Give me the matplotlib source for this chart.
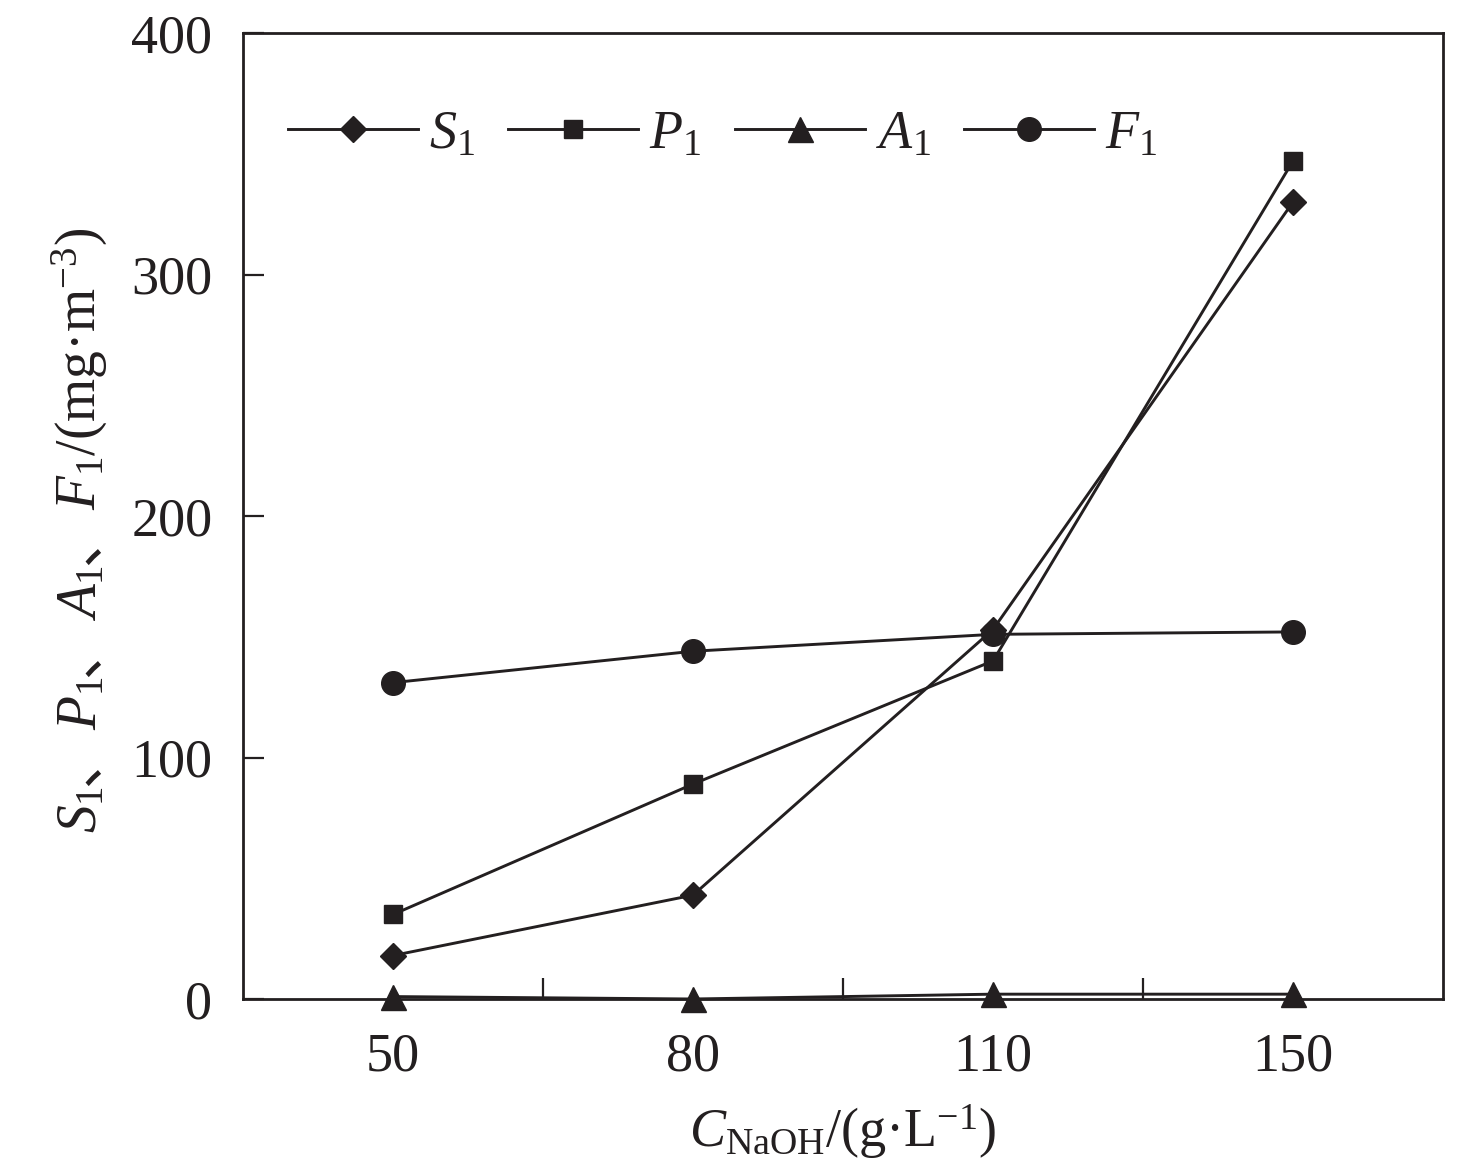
import matplotlib
matplotlib.use('Agg')
import matplotlib.pyplot as plt
from matplotlib.transforms import IdentityTransform
import numpy as np

categories = ['50', '80', '110', '150']
S1 = [18, 43, 153, 330]
P1 = [35, 89, 140, 347]
A1 = [1, 0, 2, 2]
F1 = [131, 144, 151, 152]
yticks = [0, 100, 200, 300, 400]
labels = [r'$S_1$', r'$P_1$', r'$A_1$', r'$F_1$']
xlabel = r'$C_{\mathrm{NaOH}}/(\mathrm{g·L^{-1}})$'
ylabel_pieces = [r'$S_1$', '、', r'$P_1$', '、', r'$A_1$', '、', r'$F_1/(\mathrm{mg·m^{-3}})$']

plt.rcParams['font.family'] = ['Liberation Serif', 'Noto Sans CJK SC']
plt.rcParams['mathtext.fontset'] = 'custom'
plt.rcParams['mathtext.rm'] = 'Liberation Serif'
plt.rcParams['mathtext.it'] = 'Liberation Serif:italic'
plt.rcParams['mathtext.bf'] = 'Liberation Serif:bold'

col = '#231f20'
FS = 39
W, H = 1476, 1168
fig = plt.figure(figsize=(W / 100, H / 100), dpi=100)
ax = fig.add_axes([243 / W, 1 - 999 / H, 1200 / W, 966 / H])

x = np.arange(len(categories)) + 0.5
markers = [('D', 13), ('s', 13), ('^', 18), ('o', 17)]
for vals, (m, ms), lab in zip([S1, P1, A1, F1], markers, labels):
    ax.plot(x, vals, color=col, lw=2.1, marker=m, markersize=ms, label=lab,
            clip_on=False, zorder=3)

ax.set_xlim(0, 4)
ax.set_ylim(0, 400)
ax.set_yticks(yticks)
ax.set_xticks([1, 2, 3])
ax.set_xticklabels([])
ax.set_xticks(x, minor=True)
ax.set_xticklabels(categories, minor=True)
ax.tick_params(axis='x', which='major', direction='in', length=15, width=1.6, color=col)
ax.tick_params(axis='x', which='minor', length=0, pad=24, labelsize=FS, labelcolor=col)
ax.tick_params(axis='y', direction='in', length=15, width=1.6, pad=22, labelsize=FS,
               color=col, labelcolor=col)
for s in ax.spines.values():
    s.set_linewidth(2)
    s.set_color(col)

ax.legend(loc='center left', bbox_to_anchor=(45 / 1200, 1 - 102 / 966), ncol=4,
          frameon=False, fontsize=FS, handlelength=2.4, handletextpad=0.2,
          columnspacing=0.62, borderpad=0, borderaxespad=0, labelcolor=col)

ax.set_xlabel(xlabel, fontsize=FS, labelpad=14, color=col)

fig.canvas.draw()
r = fig.canvas.get_renderer()
texts = []
for s in ylabel_pieces:
    fam = ['Noto Sans CJK SC'] if s == '、' else ['Liberation Serif']
    t = fig.text(0, 0, s, rotation=90, rotation_mode='anchor', ha='left',
                 va='baseline', fontsize=FS + 1, family=fam, color=col,
                 transform=IdentityTransform())
    texts.append(t)
lens = [t.get_window_extent(r).height for t in texts]
total = sum(lens)
yc = H - 530
y = yc - total / 2
xb = 96
for t, L in zip(texts, lens):
    t.set_position((xb, y))
    y += L

fig.savefig('out.png', dpi=100)
